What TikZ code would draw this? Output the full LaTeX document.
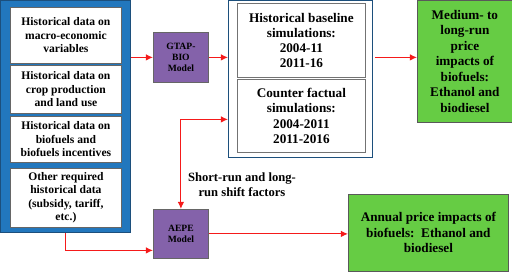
\documentclass[tikz,border=0pt]{standalone}
\usepackage{fontspec}
\setmainfont{Liberation Serif}
\usetikzlibrary{arrows.meta,calc,positioning}
\definecolor{panelBlue}{HTML}{2277BD}
\definecolor{panelEdge}{HTML}{1C4F7C}
\definecolor{modelPurple}{HTML}{8462AA}
\definecolor{outGreen}{HTML}{66CC44}
\definecolor{arrowRed}{HTML}{F51A1A}
\tikzset{
  >={Latex[length=2.5mm,width=2.3mm]},
  every node/.style={font=\bfseries},
  databox/.style={draw=black!60, fill=white, line width=0.8pt, align=center, inner sep=1pt,
    font=\fontsize{11.6}{13.4}\selectfont\bfseries},
  simbox/.style={draw=black!55, fill=white, line width=0.8pt, align=center, inner sep=1pt,
    font=\fontsize{13.2}{15.2}\selectfont\bfseries},
  modelbox/.style={draw=black!60, fill=modelPurple, line width=0.8pt, align=center, inner sep=1pt,
    font=\fontsize{9.6}{11.4}\selectfont\bfseries},
  outbox/.style={draw=black!65, fill=outGreen, line width=0.8pt, align=center, inner sep=2pt,
    font=\fontsize{13.2}{15.5}\selectfont\bfseries},
  flow/.style={->, line width=1.1pt, draw=arrowRed},
}

\begin{document}
\begin{tikzpicture}[x=1pt,y=-1pt]
  \useasboundingbox (0,0) rectangle (512,272);
  % input data panel
  \node[draw=panelEdge, fill=panelBlue, line width=0.8pt, minimum width=130pt, minimum height=232pt, anchor=north west] (panel) at (0,0) {};
  \node[databox, minimum width=111pt, minimum height=56pt, anchor=north west] (d1) at (10,7)
    {Historical data on\\macro-economic\\variables};
  \node[databox, minimum width=111pt, minimum height=48pt, anchor=north west] (d2) at (10,65)
    {Historical data on\\crop production\\and land use};
  \node[databox, minimum width=111pt, minimum height=46pt, anchor=north west] (d3) at (10,116)
    {Historical data on\\biofuels and\\biofuels incentives};
  \node[databox, minimum width=111pt, minimum height=59pt, anchor=north west] (d4) at (10,168)
    {Other required\\historical data\\(subsidy, tariff,\\etc.)};

  % models
  \node[modelbox, minimum width=55pt, minimum height=50pt, anchor=north west] (gtap) at (153,32) {GTAP-\\BIO\\Model};
  \node[modelbox, minimum width=55pt, minimum height=49pt, anchor=north west] (aepe) at (153,209) {AEPE\\Model};

  % simulation stack
  \node[draw=panelEdge, fill=white, line width=0.8pt, minimum width=144pt, minimum height=157pt, anchor=north west] (mid) at (228,0) {};
  \node[simbox, minimum width=128pt, minimum height=74pt, anchor=north west] (s1) at (237,3)
    {Historical baseline\\simulations:\\2004-11\\2011-16};
  \node[simbox, minimum width=128pt, minimum height=73pt, anchor=north west] (s2) at (237,79)
    {Counter factual\\simulations:\\2004-2011\\2011-2016};

  % outputs
  \node[outbox, minimum width=95pt, minimum height=122pt, anchor=north west] (long) at (417,0)
    {Medium- to\\long-run\\price\\impacts of\\biofuels:\\Ethanol and\\biodiesel};
  \node[outbox, minimum width=160pt, minimum height=77pt, anchor=north west] (annual) at (348,194)
    {Annual price impacts of\\biofuels:\ \ Ethanol and\\biodiesel};

  \node[font=\fontsize{12.6}{15}\selectfont\bfseries, align=center] (shift) at (242,185)
    {Short-run and long-\\run shift factors};

  \draw[flow] (gtap.west -| panel.east) -- (gtap.west);
  \draw[flow] (gtap.east) -- (gtap.east -| mid.west);
  \draw[flow] ([xshift=2pt]gtap.east -| mid.east) -- (gtap.east -| long.west);
  \draw[flow, <->] (aepe.north) |- ([yshift=-40.5pt]mid.west);
  \draw[flow] (panel.south) |- ([yshift=-16.5pt]aepe.west);
  \draw[flow] (aepe.east) -- (aepe.east -| annual.west);
\end{tikzpicture}
\end{document}
